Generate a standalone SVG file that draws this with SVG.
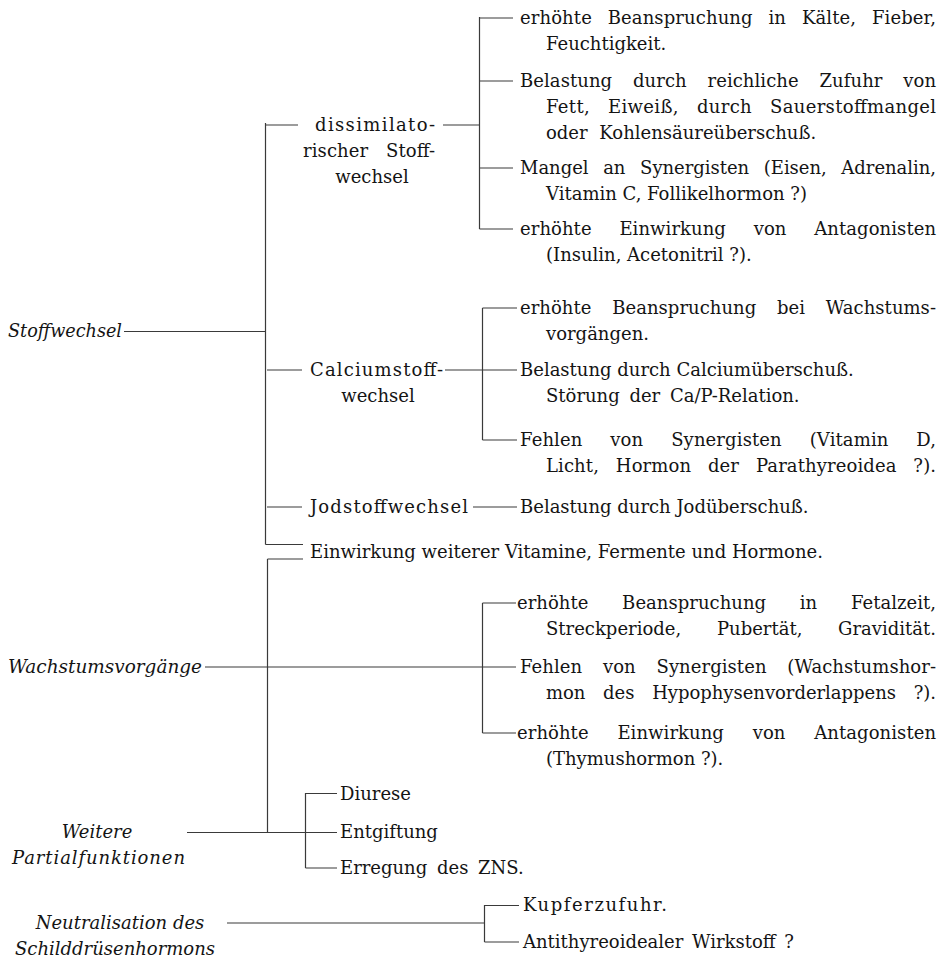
<svg xmlns="http://www.w3.org/2000/svg" width="946" height="959" viewBox="0 0 946 959">
  <style>
    text { font-family: "DejaVu Serif", "Liberation Serif", serif; font-size: 18px; fill: #141414; }
    .it { font-style: italic; }
    .mid { text-anchor: middle; }
    .ln { stroke: #3a3a3a; stroke-width: 1.2; fill: none; }
  </style>
  <rect width="946" height="959" fill="#ffffff"/>

  <!-- connectors -->
  <g id="connectors" class="ln">
    <!-- Stoffwechsel trunk -->
    <path d="M124 331.5H265.5M265.5 123V544.5M265.5 125H298M267 370H302M267 507H302M265.5 544.5H303"/>
    <!-- dissimilatorischer Stoffwechsel bracket -->
    <path d="M443 125H479.5M479.5 17V229M479.5 18H513M479.5 81H513M479.5 168H513M479.5 229H513"/>
    <!-- Calciumstoffwechsel bracket -->
    <path d="M445 370H482.5M482.5 308V440M482.5 308H517M482.5 370H517M482.5 440H517"/>
    <!-- Jodstoffwechsel -->
    <path d="M473 507H517"/>
    <!-- second trunk: Wachstum / weitere Partialfunktionen -->
    <path d="M267.5 559H303M267.5 559V832"/>
    <path d="M205 667H482.5M482.5 603V733M482.5 603H516M482.5 667H516M482.5 733H516"/>
    <path d="M187 832.5H305.5M305.5 793V868M305.5 793.5H337M305.5 832.5H337M305.5 868H337"/>
    <!-- Neutralisation bracket -->
    <path d="M227 923H484.5M484.5 905V942M484.5 905.5H519M484.5 942H519"/>
  </g>

  <g id="stoffwechsel">
    <text class="it" x="8" y="337" textLength="114" lengthAdjust="spacingAndGlyphs">Stoffwechsel</text>
  </g>

  <g id="dissimilatorisch">
    <text x="315" y="131" textLength="120" lengthAdjust="spacing">dissimilato-</text>
    <text x="303" y="157" word-spacing="12" textLength="132" lengthAdjust="spacing">rischer Stoff-</text>
    <text class="mid" x="372" y="183">wechsel</text>
  </g>

  <g id="dissim-items">
    <text x="520" y="24" word-spacing="10" textLength="416" lengthAdjust="spacing">erhöhte Beanspruchung in Kälte, Fieber,</text>
    <text x="546" y="50">Feuchtigkeit.</text>
    <text x="520" y="87" word-spacing="15" textLength="416" lengthAdjust="spacing">Belastung durch reichliche Zufuhr von</text>
    <text x="546" y="113" word-spacing="12" textLength="390" lengthAdjust="spacing">Fett, Eiweiß, durch Sauerstoffmangel</text>
    <text x="546" y="139" word-spacing="6">oder Kohlensäureüberschuß.</text>
    <text x="520" y="174" word-spacing="9" textLength="416" lengthAdjust="spacing">Mangel an Synergisten (Eisen, Adrenalin,</text>
    <text x="546" y="200">Vitamin C, Follikelhormon ?)</text>
    <text x="520" y="235" word-spacing="22" textLength="416" lengthAdjust="spacing">erhöhte Einwirkung von Antagonisten</text>
    <text x="546" y="261">(Insulin, Acetonitril ?).</text>
  </g>

  <g id="calcium">
    <text x="310" y="376" textLength="133" lengthAdjust="spacing">Calciumstoff-</text>
    <text class="mid" x="378" y="402">wechsel</text>
  </g>

  <g id="calcium-items">
    <text x="520" y="314" word-spacing="15" textLength="416" lengthAdjust="spacing">erhöhte Beanspruchung bei Wachstums-</text>
    <text x="546" y="340">vorgängen.</text>
    <text x="520" y="376">Belastung durch Calciumüberschuß.</text>
    <text x="546" y="402" word-spacing="4">Störung der Ca/P-Relation.</text>
    <text x="520" y="446" word-spacing="22" textLength="416" lengthAdjust="spacing">Fehlen von Synergisten (Vitamin D,</text>
    <text x="546" y="472" word-spacing="11" textLength="390" lengthAdjust="spacing">Licht, Hormon der Parathyreoidea ?).</text>
  </g>

  <g id="jod">
    <text x="310" y="513" textLength="158" lengthAdjust="spacing">Jodstoffwechsel</text>
  </g>
  <g id="jod-item">
    <text x="520" y="513">Belastung durch Jodüberschuß.</text>
  </g>

  <g id="einwirkung">
    <text x="310" y="558">Einwirkung weiterer Vitamine, Fermente und Hormone.</text>
  </g>

  <g id="wachstum">
    <text class="it" x="8" y="673" textLength="194" lengthAdjust="spacingAndGlyphs">Wachstumsvorgänge</text>
  </g>

  <g id="wachstum-items">
    <text x="517" y="609" word-spacing="28" textLength="419" lengthAdjust="spacing">erhöhte Beanspruchung in Fetalzeit,</text>
    <text x="546" y="635" word-spacing="30" textLength="390" lengthAdjust="spacing">Streckperiode, Pubertät, Gravidität.</text>
    <text x="520" y="673" word-spacing="15" textLength="416" lengthAdjust="spacing">Fehlen von Synergisten (Wachstumshor-</text>
    <text x="546" y="699" word-spacing="12" textLength="390" lengthAdjust="spacing">mon des Hypophysenvorderlappens ?).</text>
    <text x="517" y="739" word-spacing="23" textLength="419" lengthAdjust="spacing">erhöhte Einwirkung von Antagonisten</text>
    <text x="546" y="765">(Thymushormon ?).</text>
  </g>

  <g id="partialfunktionen">
    <text class="it mid" x="97" y="838">Weitere</text>
    <text class="it" x="12" y="864" textLength="173" lengthAdjust="spacing">Partialfunktionen</text>
  </g>

  <g id="partial-items">
    <text x="340" y="800">Diurese</text>
    <text x="340" y="838">Entgiftung</text>
    <text x="340" y="874" word-spacing="4">Erregung des ZNS.</text>
  </g>

  <g id="neutralisation">
    <text class="it mid" x="120" y="929">Neutralisation des</text>
    <text class="it mid" x="115" y="955">Schilddrüsenhormons</text>
  </g>

  <g id="neutral-items">
    <text x="523" y="911" textLength="144" lengthAdjust="spacing">Kupferzufuhr.</text>
    <text x="523" y="948" word-spacing="3">Antithyreoidealer Wirkstoff ?</text>
  </g>
</svg>
